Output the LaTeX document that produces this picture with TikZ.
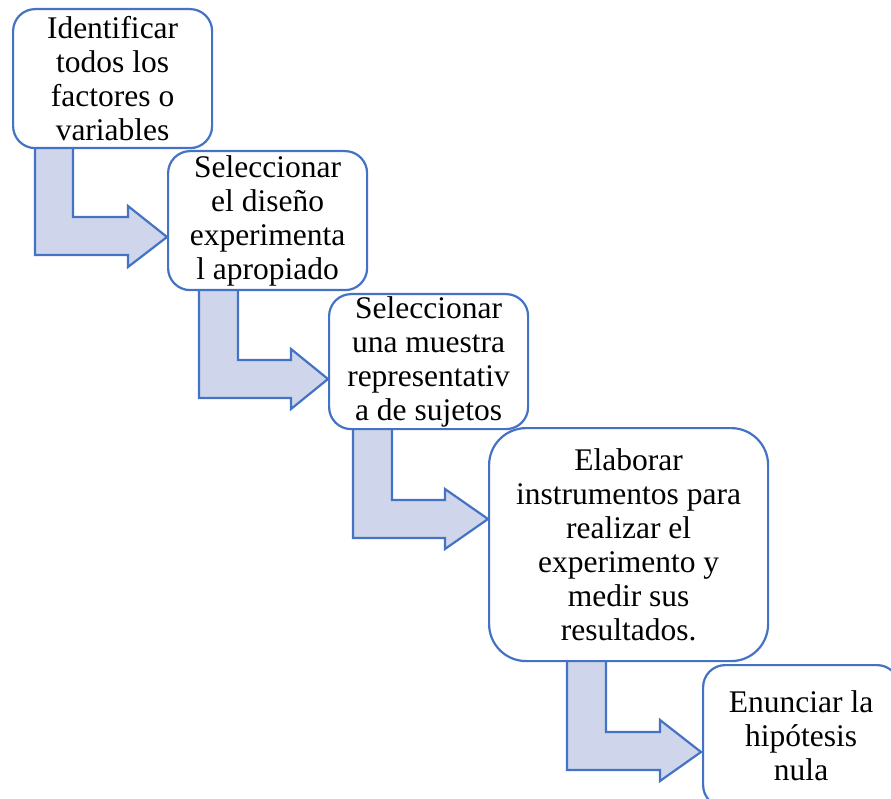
\documentclass[tikz,border=0pt]{standalone}
\usepackage{fontspec}
\setmainfont{Liberation Serif}
\newfontfamily\tnrfont{Liberation Serif}
\definecolor{lineblue}{HTML}{4472C4}
\definecolor{arrowfill}{HTML}{CFD5EA}
\begin{document}
\begin{tikzpicture}[x=1pt,y=-1pt,
  stepbox/.style={draw=lineblue,line width=2.2pt,fill=white,rounded corners=22pt,
    anchor=north west,inner sep=0pt,align=center,
    font={\tnrfont\fontsize{31.5}{34}\selectfont}},
  bentarrow/.style={draw=lineblue,line width=2.2pt,fill=arrowfill,line join=miter}]
\useasboundingbox[clip] (0,0) rectangle (891,799);
% bent arrows (drawn below the boxes)
\draw[bentarrow] (35,147) -- (73,147) -- (73,217) -- (128,217) -- (128,206) -- (167,237) -- (128,267) -- (128,255) -- (35,255) -- cycle;
\draw[bentarrow] (199,288) -- (238,288) -- (238,360) -- (291,360) -- (291,349) -- (328,379) -- (291,409) -- (291,398) -- (199,398) -- cycle;
\draw[bentarrow] (353,428) -- (392,428) -- (392,500) -- (445,500) -- (445,489) -- (488,519) -- (445,549) -- (445,538) -- (353,538) -- cycle;
\draw[bentarrow] (567,660) -- (606,660) -- (606,732) -- (660,732) -- (660,720) -- (701,752) -- (660,781) -- (660,770) -- (567,770) -- cycle;
% boxes
\node[stepbox,minimum width=199pt,minimum height=139pt] (b1) at (12,8) {Identificar\\todos los\\factores o\\variables};
\node[stepbox,minimum width=199pt,minimum height=139pt] (b2) at (167,150) {Seleccionar\\el diseño\\experimenta\\l apropiado};
\node[stepbox,minimum width=199pt,minimum height=135pt] (b3) at (328,293) {Seleccionar\\una muestra\\representativ\\a de sujetos};
\node[stepbox,rounded corners=37pt,minimum width=279pt,minimum height=233pt] (b4) at (488,427) {Elaborar\\instrumentos para\\realizar el\\experimento y\\medir sus\\resultados.};
\node[stepbox,minimum width=196pt,minimum height=142pt] (b5) at (702,664) {Enunciar la\\hipótesis\\nula};
\end{tikzpicture}
\end{document}
